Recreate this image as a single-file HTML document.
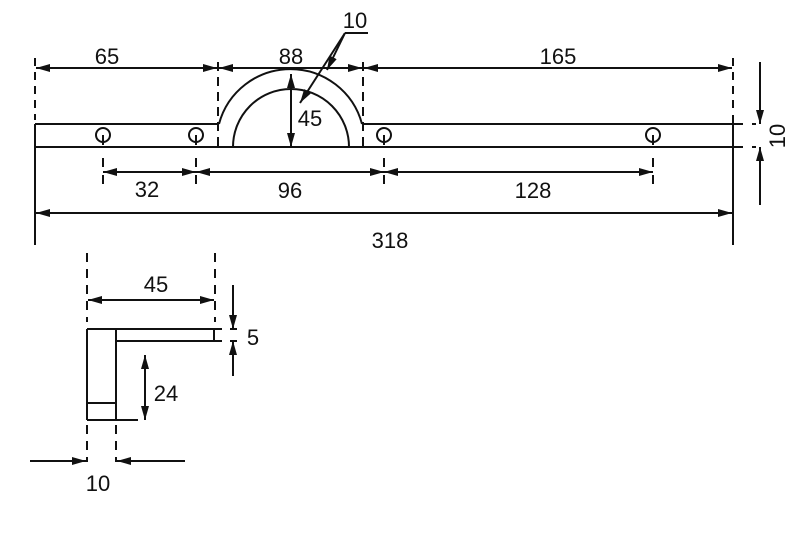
<!DOCTYPE html>
<html><head><style>body{margin:0;background:#fff}svg{display:block}text{font-family:"Liberation Sans",sans-serif;font-size:22px;fill:#111}</style></head>
<body>
<svg width="800" height="560" viewBox="0 0 800 560" xmlns="http://www.w3.org/2000/svg">
<defs>
<marker id="a" viewBox="0 0 14 8" refX="14" refY="4" markerWidth="14" markerHeight="8" orient="auto-start-reverse" markerUnits="userSpaceOnUse"><path d="M0,0 L14,4 L0,8 z" fill="#111"/></marker>
</defs>
<g stroke="#111" stroke-width="2" fill="none">
<line x1="35" y1="124" x2="35" y2="245"/>
<line x1="35" y1="58" x2="35" y2="120" stroke-dasharray="8,6"/>
<line x1="35" y1="124" x2="219" y2="124"/>
<line x1="35" y1="147" x2="743" y2="147"/>
<line x1="362" y1="124" x2="743" y2="124"/>
<line x1="733" y1="115" x2="733" y2="245"/>
<line x1="733" y1="58" x2="733" y2="110" stroke-dasharray="8,6"/>
<line x1="752" y1="124" x2="756" y2="124"/>
<line x1="752" y1="147" x2="756" y2="147"/>
<path d="M219,124 A74,74 0 0 1 362,124"/>
<path d="M233,147 A58,58 0 0 1 349,147"/>
<line x1="218" y1="62" x2="218" y2="147" stroke-dasharray="9,6"/>
<line x1="363" y1="62" x2="363" y2="147" stroke-dasharray="9,6"/>
<circle cx="103" cy="135" r="7"/><circle cx="196" cy="135" r="7"/><circle cx="384" cy="135" r="7"/><circle cx="653" cy="135" r="7"/>
<line x1="103" y1="135" x2="103" y2="145"/><line x1="196" y1="135" x2="196" y2="145"/><line x1="384" y1="135" x2="384" y2="145"/><line x1="653" y1="135" x2="653" y2="145"/>
<line x1="103" y1="158" x2="103" y2="188" stroke-dasharray="9,8"/>
<line x1="196" y1="158" x2="196" y2="188" stroke-dasharray="9,8"/>
<line x1="384" y1="158" x2="384" y2="188" stroke-dasharray="9,8"/>
<line x1="653" y1="158" x2="653" y2="188" stroke-dasharray="9,8"/>
<line x1="36" y1="68" x2="217" y2="68" marker-start="url(#a)" marker-end="url(#a)"/>
<line x1="219" y1="68" x2="362" y2="68" marker-start="url(#a)" marker-end="url(#a)"/>
<line x1="364" y1="68" x2="732" y2="68" marker-start="url(#a)" marker-end="url(#a)"/>
<line x1="291" y1="74" x2="291" y2="147" marker-start="url(#a)" marker-end="url(#a)"/>
<line x1="103" y1="172" x2="196" y2="172" marker-start="url(#a)" marker-end="url(#a)"/>
<line x1="196" y1="172" x2="384" y2="172" marker-start="url(#a)" marker-end="url(#a)"/>
<line x1="384" y1="172" x2="653" y2="172" marker-start="url(#a)" marker-end="url(#a)"/>
<line x1="36" y1="213" x2="732" y2="213" marker-start="url(#a)" marker-end="url(#a)"/>
<line x1="760" y1="62" x2="760" y2="124" marker-end="url(#a)"/>
<line x1="760" y1="205" x2="760" y2="147" marker-end="url(#a)"/>
<polyline points="345,33 368,33"/>
<line x1="345" y1="33" x2="300" y2="103" marker-end="url(#a)"/>
<line x1="345" y1="33" x2="327" y2="70" marker-end="url(#a)"/>
<line x1="87" y1="253" x2="87" y2="322" stroke-dasharray="9,7"/>
<line x1="215" y1="253" x2="215" y2="322" stroke-dasharray="9,7"/>
<line x1="87" y1="425" x2="87" y2="462" stroke-dasharray="9,7"/>
<line x1="116" y1="425" x2="116" y2="462" stroke-dasharray="9,7"/>
<line x1="88" y1="300" x2="214" y2="300" marker-start="url(#a)" marker-end="url(#a)"/>
<line x1="87" y1="329" x2="87" y2="420"/>
<line x1="116" y1="329" x2="116" y2="420"/>
<line x1="87" y1="329" x2="222" y2="329"/>
<line x1="116" y1="341" x2="222" y2="341"/>
<line x1="214" y1="329" x2="214" y2="341"/>
<line x1="87" y1="403" x2="116" y2="403"/>
<line x1="87" y1="420" x2="138" y2="420"/>
<line x1="230" y1="329" x2="237" y2="329"/><line x1="230" y1="341" x2="237" y2="341"/>
<line x1="233" y1="285" x2="233" y2="329" marker-end="url(#a)"/>
<line x1="233" y1="376" x2="233" y2="341" marker-end="url(#a)"/>
<line x1="145" y1="355" x2="145" y2="420" marker-start="url(#a)" marker-end="url(#a)"/>
<line x1="30" y1="461" x2="86" y2="461" marker-end="url(#a)"/>
<line x1="185" y1="461" x2="117" y2="461" marker-end="url(#a)"/>
</g>
<text x="107" y="64" text-anchor="middle">65</text>
<text x="291" y="64" text-anchor="middle">88</text>
<text x="558" y="64" text-anchor="middle">165</text>
<text x="355" y="28" text-anchor="middle">10</text>
<text x="310" y="126" text-anchor="middle">45</text>
<text x="147" y="197" text-anchor="middle">32</text>
<text x="290" y="198" text-anchor="middle">96</text>
<text x="533" y="198" text-anchor="middle">128</text>
<text x="390" y="248" text-anchor="middle">318</text>
<text transform="translate(785,136) rotate(-90)" text-anchor="middle">10</text>
<text x="156" y="292" text-anchor="middle">45</text>
<text x="253" y="345" text-anchor="middle">5</text>
<text x="166" y="401" text-anchor="middle">24</text>
<text x="98" y="491" text-anchor="middle">10</text>
</svg>
</body></html>
